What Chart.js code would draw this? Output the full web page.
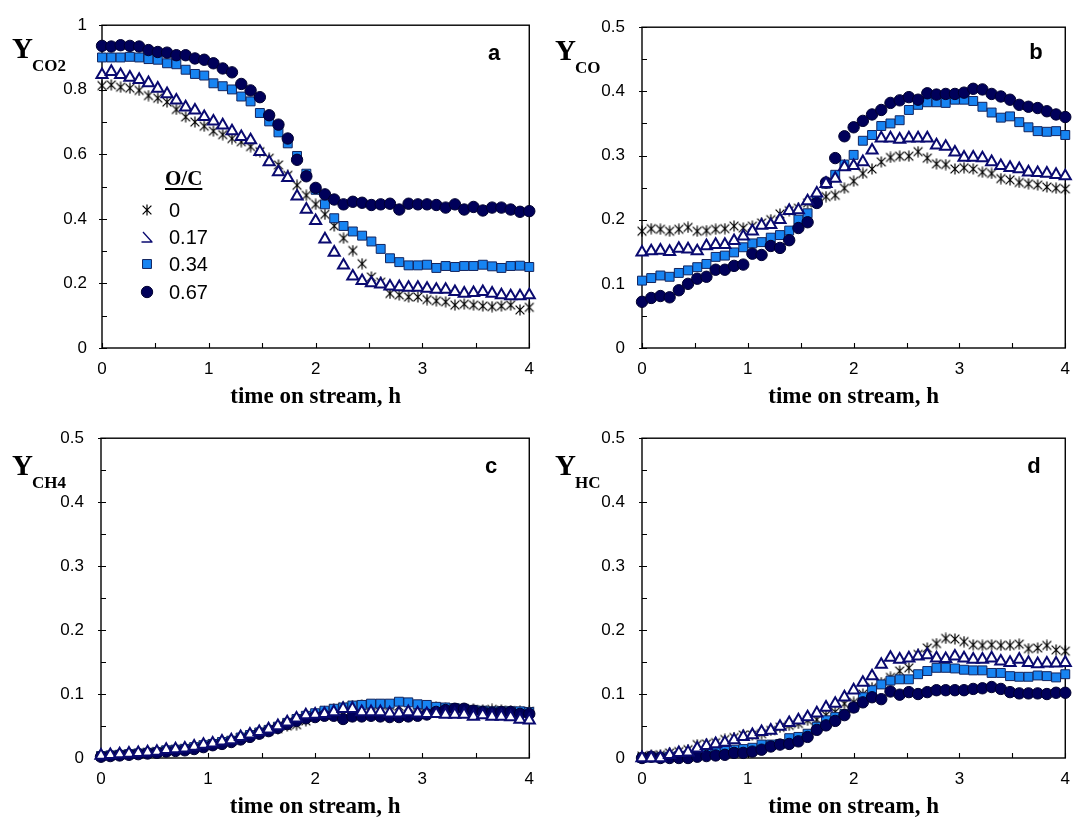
<!DOCTYPE html>
<html>
<head>
<meta charset="utf-8">
<title>Yields vs time on stream</title>
<script src="https://cdn.jsdelivr.net/npm/chart.js@4/dist/chart.umd.min.js"></script>
<style>
  html, body { margin: 0; padding: 0; background: #fff; overflow: hidden; }
  #wrap { position: relative; width: 1081px; height: 823px; }
  #wrap canvas { position: absolute; }
</style>
</head>
<body>
<div id="wrap">
  <canvas id="panelA" width="545" height="411" style="left:0;top:0"></canvas>
  <canvas id="panelB" width="536" height="411" style="left:545px;top:0"></canvas>
  <canvas id="panelC" width="545" height="412" style="left:0;top:411px"></canvas>
  <canvas id="panelD" width="536" height="412" style="left:545px;top:411px"></canvas>
</div>
<script>
// Sampling times (h)
const hours = [0, 0.087, 0.174, 0.261, 0.348, 0.435, 0.522, 0.609, 0.696, 0.783,
  0.870, 0.957, 1.043, 1.130, 1.217, 1.304, 1.391, 1.478, 1.565, 1.652,
  1.739, 1.826, 1.913, 2.000, 2.087, 2.174, 2.261, 2.348, 2.435, 2.522,
  2.609, 2.696, 2.783, 2.870, 2.957, 3.043, 3.130, 3.217, 3.304, 3.391,
  3.478, 3.565, 3.652, 3.739, 3.826, 3.913, 4.000];

// O/C ratios of the four runs
const ocLabels = ['0', '0.17', '0.34', '0.67'];

// CO2 yield
const co2_oc0 = [0.813, 0.815, 0.808, 0.805, 0.798, 0.782, 0.774, 0.762, 0.739, 0.716,
  0.700, 0.687, 0.672, 0.661, 0.649, 0.639, 0.624, 0.608, 0.588, 0.567,
  0.535, 0.504, 0.473, 0.445, 0.414, 0.378, 0.340, 0.302, 0.261, 0.220,
  0.204, 0.169, 0.164, 0.158, 0.158, 0.150, 0.146, 0.143, 0.133, 0.136,
  0.133, 0.130, 0.128, 0.130, 0.133, 0.118, 0.126];
const co2_oc017 = [0.846, 0.856, 0.846, 0.838, 0.831, 0.821, 0.804, 0.787, 0.767, 0.746,
  0.736, 0.716, 0.702, 0.690, 0.672, 0.654, 0.644, 0.608, 0.576, 0.545,
  0.527, 0.470, 0.429, 0.394, 0.337, 0.296, 0.256, 0.222, 0.208, 0.201,
  0.197, 0.191, 0.189, 0.187, 0.187, 0.184, 0.181, 0.181, 0.174, 0.169,
  0.171, 0.174, 0.169, 0.164, 0.161, 0.161, 0.164];
const co2_oc034 = [0.900, 0.900, 0.900, 0.902, 0.900, 0.895, 0.893, 0.882, 0.879, 0.862,
  0.849, 0.844, 0.820, 0.811, 0.801, 0.779, 0.764, 0.728, 0.702, 0.668,
  0.634, 0.595, 0.540, 0.490, 0.445, 0.402, 0.378, 0.361, 0.348, 0.330,
  0.307, 0.278, 0.266, 0.256, 0.256, 0.258, 0.248, 0.254, 0.251, 0.254,
  0.254, 0.258, 0.253, 0.248, 0.254, 0.255, 0.251];
const co2_oc067 = [0.936, 0.934, 0.938, 0.936, 0.934, 0.923, 0.917, 0.915, 0.907, 0.907,
  0.897, 0.893, 0.882, 0.866, 0.854, 0.818, 0.798, 0.777, 0.721, 0.692,
  0.649, 0.583, 0.532, 0.496, 0.476, 0.460, 0.445, 0.453, 0.450, 0.443,
  0.445, 0.447, 0.429, 0.447, 0.445, 0.445, 0.443, 0.435, 0.445, 0.429,
  0.437, 0.426, 0.435, 0.435, 0.429, 0.422, 0.424];

// CO yield
const co_oc0 = [0.182, 0.186, 0.185, 0.182, 0.185, 0.188, 0.182, 0.183, 0.185, 0.186,
  0.190, 0.187, 0.190, 0.195, 0.200, 0.209, 0.214, 0.218, 0.226, 0.233,
  0.236, 0.238, 0.249, 0.260, 0.272, 0.279, 0.290, 0.297, 0.299, 0.299,
  0.306, 0.296, 0.287, 0.286, 0.279, 0.281, 0.279, 0.274, 0.272, 0.264,
  0.262, 0.258, 0.256, 0.254, 0.251, 0.249, 0.248];
const co_oc017 = [0.149, 0.151, 0.152, 0.150, 0.155, 0.154, 0.151, 0.159, 0.161, 0.161,
  0.167, 0.174, 0.182, 0.191, 0.192, 0.200, 0.214, 0.215, 0.229, 0.241,
  0.256, 0.264, 0.282, 0.284, 0.290, 0.308, 0.327, 0.327, 0.325, 0.327,
  0.327, 0.327, 0.316, 0.314, 0.305, 0.297, 0.297, 0.296, 0.290, 0.284,
  0.281, 0.279, 0.274, 0.273, 0.272, 0.270, 0.268];
const co_oc034 = [0.105, 0.109, 0.113, 0.111, 0.117, 0.121, 0.126, 0.131, 0.142, 0.144,
  0.149, 0.157, 0.163, 0.165, 0.172, 0.176, 0.183, 0.200, 0.210, 0.229,
  0.256, 0.270, 0.286, 0.301, 0.323, 0.332, 0.346, 0.350, 0.355, 0.371,
  0.379, 0.383, 0.383, 0.382, 0.387, 0.387, 0.385, 0.376, 0.367, 0.359,
  0.361, 0.352, 0.344, 0.338, 0.337, 0.338, 0.332];
const co_oc067 = [0.072, 0.078, 0.081, 0.079, 0.090, 0.100, 0.108, 0.111, 0.122, 0.122,
  0.128, 0.130, 0.147, 0.145, 0.159, 0.156, 0.168, 0.187, 0.196, 0.226,
  0.258, 0.296, 0.330, 0.344, 0.354, 0.364, 0.371, 0.382, 0.386, 0.391,
  0.387, 0.397, 0.395, 0.396, 0.396, 0.398, 0.404, 0.403, 0.396, 0.392,
  0.387, 0.379, 0.376, 0.374, 0.369, 0.364, 0.360];

// CH4 yield
const ch4_oc0 = [0.003, 0.004, 0.005, 0.006, 0.007, 0.009, 0.010, 0.012, 0.013, 0.015,
  0.017, 0.020, 0.022, 0.025, 0.027, 0.031, 0.035, 0.038, 0.042, 0.046,
  0.050, 0.052, 0.058, 0.066, 0.072, 0.077, 0.080, 0.082, 0.083, 0.082,
  0.083, 0.082, 0.081, 0.080, 0.081, 0.080, 0.079, 0.078, 0.077, 0.076,
  0.076, 0.075, 0.076, 0.075, 0.074, 0.073, 0.073];
const ch4_oc017 = [0.004, 0.005, 0.006, 0.007, 0.008, 0.009, 0.010, 0.013, 0.014, 0.015,
  0.018, 0.021, 0.023, 0.026, 0.028, 0.033, 0.037, 0.041, 0.045, 0.050,
  0.056, 0.062, 0.067, 0.068, 0.069, 0.072, 0.077, 0.077, 0.072, 0.072,
  0.072, 0.070, 0.070, 0.072, 0.070, 0.069, 0.069, 0.068, 0.068, 0.068,
  0.065, 0.067, 0.065, 0.065, 0.064, 0.060, 0.059];
const ch4_oc034 = [0.003, 0.004, 0.005, 0.006, 0.007, 0.008, 0.009, 0.012, 0.013, 0.014,
  0.017, 0.020, 0.022, 0.025, 0.027, 0.032, 0.036, 0.040, 0.044, 0.049,
  0.055, 0.061, 0.066, 0.070, 0.074, 0.077, 0.079, 0.082, 0.083, 0.085,
  0.085, 0.085, 0.088, 0.087, 0.084, 0.083, 0.080, 0.079, 0.078, 0.077,
  0.075, 0.074, 0.073, 0.073, 0.073, 0.073, 0.072];
const ch4_oc067 = [0.002, 0.003, 0.004, 0.005, 0.006, 0.007, 0.008, 0.010, 0.011, 0.012,
  0.014, 0.017, 0.020, 0.022, 0.025, 0.029, 0.033, 0.038, 0.042, 0.047,
  0.053, 0.058, 0.062, 0.064, 0.066, 0.066, 0.061, 0.065, 0.065, 0.066,
  0.065, 0.064, 0.064, 0.065, 0.066, 0.068, 0.072, 0.075, 0.077, 0.077,
  0.074, 0.072, 0.071, 0.072, 0.072, 0.069, 0.069];

// Higher hydrocarbons yield
const hc_oc0 = [0.003, 0.004, 0.005, 0.008, 0.010, 0.013, 0.021, 0.022, 0.024, 0.029,
  0.032, 0.036, 0.036, 0.038, 0.043, 0.048, 0.051, 0.054, 0.059, 0.060,
  0.067, 0.072, 0.085, 0.087, 0.100, 0.110, 0.118, 0.126, 0.136, 0.141,
  0.162, 0.172, 0.179, 0.187, 0.186, 0.182, 0.177, 0.176, 0.177, 0.176,
  0.176, 0.178, 0.171, 0.172, 0.176, 0.169, 0.167];
const hc_oc017 = [0.000, 0.000, 0.000, 0.005, 0.008, 0.009, 0.015, 0.019, 0.022, 0.024,
  0.028, 0.033, 0.036, 0.041, 0.043, 0.049, 0.055, 0.059, 0.064, 0.070,
  0.079, 0.085, 0.095, 0.106, 0.118, 0.128, 0.146, 0.157, 0.154, 0.156,
  0.159, 0.161, 0.156, 0.155, 0.159, 0.156, 0.154, 0.154, 0.156, 0.151,
  0.149, 0.154, 0.149, 0.147, 0.148, 0.148, 0.149];
const hc_oc034 = [0.000, 0.001, 0.001, 0.002, 0.003, 0.004, 0.006, 0.008, 0.009, 0.011,
  0.013, 0.014, 0.016, 0.021, 0.021, 0.022, 0.031, 0.033, 0.038, 0.049,
  0.059, 0.064, 0.069, 0.079, 0.095, 0.106, 0.115, 0.121, 0.123, 0.123,
  0.131, 0.136, 0.141, 0.141, 0.140, 0.138, 0.137, 0.137, 0.133, 0.133,
  0.128, 0.127, 0.127, 0.129, 0.128, 0.126, 0.131];
const hc_oc067 = [0.000, 0.002, 0.000, 0.000, 0.000, 0.000, 0.002, 0.003, 0.004, 0.005,
  0.008, 0.008, 0.010, 0.013, 0.018, 0.021, 0.022, 0.026, 0.033, 0.044,
  0.051, 0.058, 0.067, 0.079, 0.087, 0.095, 0.092, 0.104, 0.099, 0.103,
  0.100, 0.103, 0.106, 0.106, 0.106, 0.106, 0.108, 0.109, 0.111, 0.108,
  0.103, 0.101, 0.101, 0.101, 0.100, 0.102, 0.102];

// ---- marker styles ----
const NAVY = '#0a0a70';
const CIRCLE_FILL = '#00005a';
const SQUARE_FILL = '#1784f2';
const STAR_COLOR = '#000000';

// six-armed asterisk drawn once onto a small canvas
function makeAsterisk(size, color) {
  const c = document.createElement('canvas');
  c.width = size; c.height = size;
  const g = c.getContext('2d');
  const m = size / 2, r = size / 2 - 0.5;
  g.strokeStyle = color; g.lineWidth = 1.2;
  g.beginPath();
  g.moveTo(m, m - r); g.lineTo(m, m + r);
  g.moveTo(m - r * 0.8, m - r * 0.8); g.lineTo(m + r * 0.8, m + r * 0.8);
  g.moveTo(m + r * 0.8, m - r * 0.8); g.lineTo(m - r * 0.8, m + r * 0.8);
  g.stroke();
  return c;
}
const asterisk = makeAsterisk(12, STAR_COLOR);

const seriesStyles = [
  { pointStyle: asterisk, pointRadius: 5, backgroundColor: STAR_COLOR, borderColor: STAR_COLOR, borderWidth: 1, order: 4 },
  { pointStyle: 'triangle', pointRadius: 6.4, backgroundColor: '#ffffff', borderColor: NAVY, borderWidth: 2, order: 1 },
  { pointStyle: 'rect', pointRadius: 6.3, backgroundColor: SQUARE_FILL, borderColor: '#12245e', borderWidth: 1, order: 3 },
  { pointStyle: 'circle', pointRadius: 5.7, backgroundColor: CIRCLE_FILL, borderColor: '#000030', borderWidth: 1, order: 2 }
];

// tick label text: 1 instead of 1.0, 0.1 etc. unchanged
const tickText = v => String(Math.round(v * 100) / 100);

// ---- frame, inward tick marks, axis symbol, panel letter, O/C legend ----
const panelDecor = {
  id: 'panelDecor',
  beforeDatasetsDraw(chart, args, opts) {
    const { ctx, chartArea: a, scales: { x, y } } = chart;
    ctx.save();
    ctx.strokeStyle = '#000';
    ctx.lineWidth = 1.4;
    ctx.strokeRect(a.left, a.top, a.right - a.left, a.bottom - a.top);
    ctx.lineWidth = 1.1;
    ctx.beginPath();
    for (let v = x.min; v <= x.max + 1e-9; v += opts.xMinor) {
      const px = Math.round(x.getPixelForValue(v)) + 0.5;
      ctx.moveTo(px, a.bottom); ctx.lineTo(px, a.bottom - 5);
    }
    const n = Math.round((y.max - y.min) / opts.yMinor);
    for (let k = 0; k <= n; k++) {
      const v = y.min + k * opts.yMinor;
      const py = Math.round(y.getPixelForValue(v)) + 0.5;
      const major = k % 2 === 0;
      ctx.moveTo(a.left - (major ? 3 : 0), py); ctx.lineTo(a.left + 5, py);
    }
    ctx.stroke();
    ctx.restore();
  },
  afterDraw(chart, args, opts) {
    const { ctx } = chart;
    ctx.save();
    ctx.fillStyle = '#000';
    // axis symbol with subscript
    const yl = opts.yLabel;
    ctx.textBaseline = 'alphabetic';
    ctx.textAlign = 'left';
    ctx.font = 'bold 29px "Liberation Serif", "Times New Roman", serif';
    ctx.fillText('Y', yl.x, yl.y);
    const w = ctx.measureText('Y').width;
    ctx.font = 'bold 17px "Liberation Serif", "Times New Roman", serif';
    ctx.fillText(yl.sub, yl.x + w - 1, yl.y + 13);
    // panel letter
    ctx.font = 'bold 22px "Liberation Sans", Arial, sans-serif';
    ctx.textAlign = 'center';
    ctx.textBaseline = 'middle';
    ctx.fillText(opts.letter.text, opts.letter.x, opts.letter.y);
    // O/C legend
    if (opts.legend) {
      const lg = opts.legend;
      ctx.font = 'bold 21px "Liberation Serif", "Times New Roman", serif';
      ctx.textAlign = 'left';
      ctx.textBaseline = 'alphabetic';
      ctx.fillText('O/C', lg.titleX, lg.titleY);
      const tw = ctx.measureText('O/C').width;
      ctx.fillRect(lg.titleX, lg.titleY + 3, tw, 2);
      ctx.font = '20px "Liberation Sans", Arial, sans-serif';
      ctx.textBaseline = 'middle';
      chart.data.datasets.forEach((ds, i) => {
        const cy = lg.rowY[i];
        const cx = lg.symbolX;
        ctx.fillStyle = '#000';
        ctx.fillText(ds.label, lg.textX, cy + 1);
        ctx.save();
        if (ds.pointStyle === 'triangle') {
          // open-triangle key, drawn as its base and right edge
          ctx.strokeStyle = ds.borderColor;
          ctx.lineWidth = 1.3;
          ctx.beginPath();
          ctx.moveTo(cx - 4, cy - 5); ctx.lineTo(cx + 5, cy + 5);
          ctx.moveTo(cx - 5.5, cy + 5); ctx.lineTo(cx + 5.5, cy + 5);
          ctx.stroke();
        } else {
          ctx.fillStyle = ds.backgroundColor;
          ctx.strokeStyle = ds.borderColor;
          ctx.lineWidth = ds.borderWidth;
          Chart.helpers.drawPoint(ctx, {
            pointStyle: ds.pointStyle, rotation: 0,
            radius: ds.pointRadius, borderWidth: ds.borderWidth
          }, cx, cy);
        }
        ctx.restore();
      });
    }
    ctx.restore();
  }
};

function makePanel(canvasId, p) {
  const datasets = p.series.map((vals, i) => Object.assign({
    label: ocLabels[i],
    data: hours.map((h, k) => ({ x: h, y: vals[k] })),
    showLine: false,
    clip: false,
    pointHoverRadius: seriesStyles[i].pointRadius
  }, seriesStyles[i]));

  return new Chart(document.getElementById(canvasId), {
    type: 'scatter',
    data: { datasets },
    options: {
      responsive: false,
      animation: false,
      devicePixelRatio: 1,
      events: [],
      layout: { padding: { left: 0, top: p.top, right: p.right, bottom: 0 } },
      plugins: {
        legend: { display: false },
        tooltip: { enabled: false },
        panelDecor: p.decor
      },
      scales: {
        x: {
          type: 'linear', min: 0, max: 4,
          grid: { display: false, drawTicks: false },
          border: { display: false },
          ticks: {
            stepSize: 1, padding: 11, maxRotation: 0, color: '#000',
            font: { family: '"Liberation Sans", Arial, sans-serif', size: 17 },
            callback: tickText
          },
          title: {
            display: true, text: 'time on stream, h', color: '#000',
            font: { family: '"Liberation Serif", "Times New Roman", serif', size: 23, weight: 'bold' },
            padding: { top: 0, bottom: p.titlePad }
          },
          afterFit: s => { s.height = p.xHeight; }
        },
        y: {
          type: 'linear', min: 0, max: p.yMax,
          grid: { display: false, drawTicks: false },
          border: { display: false },
          ticks: {
            stepSize: p.yStep, padding: p.yPad, color: '#000',
            font: { family: '"Liberation Sans", Arial, sans-serif', size: 17 },
            callback: tickText
          },
          afterFit: s => { s.width = p.yWidth; }
        }
      }
    },
    plugins: [panelDecor]
  });
}

makePanel('panelA', {
  series: [co2_oc0, co2_oc017, co2_oc034, co2_oc067],
  yMax: 1, yStep: 0.2, yPad: 15, yWidth: 102, right: 10, top: 22, xHeight: 63, titlePad: 0,
  decor: {
    xMinor: 0.5, yMinor: 0.1,
    yLabel: { x: 12, y: 58, sub: 'CO2' },
    letter: { text: 'a', x: 494, y: 54 },
    legend: { titleX: 165, titleY: 185, symbolX: 147, textX: 169, rowY: [210, 237, 264, 292] }
  }
});
makePanel('panelB', {
  series: [co_oc0, co_oc017, co_oc034, co_oc067],
  yMax: 0.5, yStep: 0.1, yPad: 17, yWidth: 97, right: 7, top: 22, xHeight: 63, titlePad: 0,
  decor: {
    xMinor: 0.5, yMinor: 0.05,
    yLabel: { x: 10, y: 60, sub: 'CO' },
    letter: { text: 'b', x: 491, y: 53 }
  }
});
makePanel('panelC', {
  series: [ch4_oc0, ch4_oc017, ch4_oc034, ch4_oc067],
  yMax: 0.5, yStep: 0.1, yPad: 17, yWidth: 101, right: 12, top: 22, xHeight: 65, titlePad: 2,
  decor: {
    xMinor: 0.5, yMinor: 0.05,
    yLabel: { x: 12, y: 64, sub: 'CH4' },
    letter: { text: 'c', x: 491, y: 56 }
  }
});
makePanel('panelD', {
  series: [hc_oc0, hc_oc017, hc_oc034, hc_oc067],
  yMax: 0.5, yStep: 0.1, yPad: 17, yWidth: 97, right: 7, top: 22, xHeight: 65, titlePad: 2,
  decor: {
    xMinor: 0.5, yMinor: 0.05,
    yLabel: { x: 10, y: 64, sub: 'HC' },
    letter: { text: 'd', x: 489, y: 56 }
  }
});
</script>
</body>
</html>
